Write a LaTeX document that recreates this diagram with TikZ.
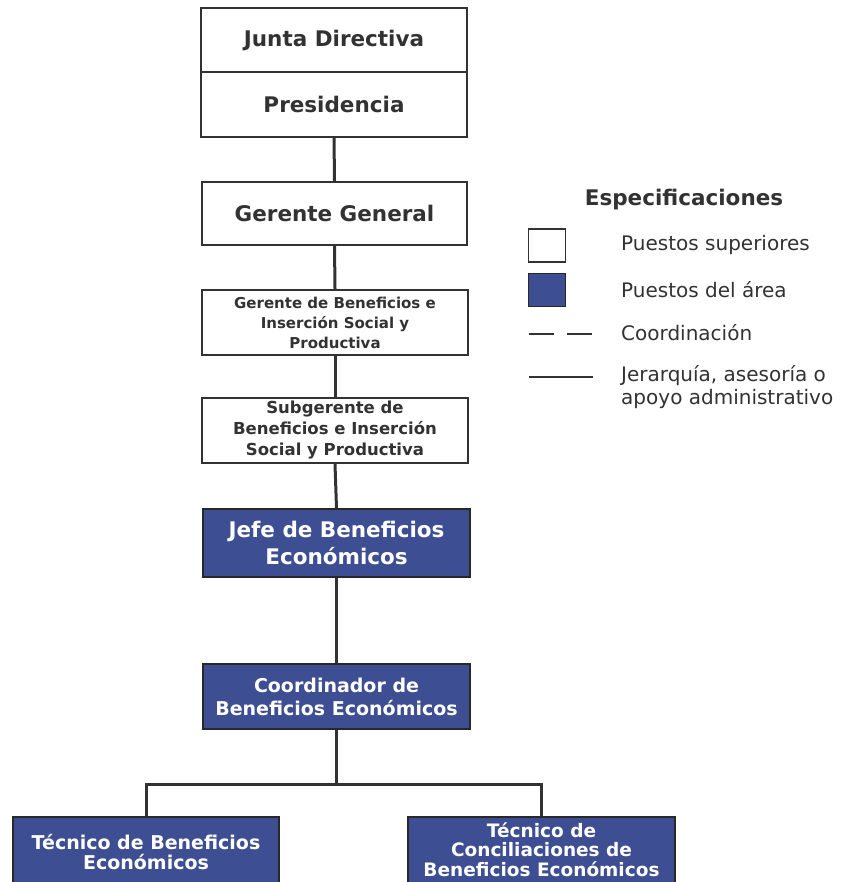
\documentclass[tikz,border=0pt]{standalone}
\usepackage{fontspec}
\setmainfont{DejaVu Sans}
\definecolor{areablue}{RGB}{62,78,146}
\definecolor{ink}{RGB}{50,50,50}
\tikzset{
  sup/.style={draw=ink, line width=2.4pt, fill=white, text=ink, font=\bfseries, align=center, inner sep=0pt},
  area/.style={draw=ink!80!black, line width=1.8pt, fill=areablue, text=white, font=\bfseries, align=center, inner sep=0pt},
  conn/.style={draw=ink, line width=3pt},
  legtxt/.style={anchor=west, text=ink, font=\fontsize{20}{23.5}\selectfont, inner sep=0pt}
}
\begin{document}
\begin{tikzpicture}[x=1pt,y=-1pt]
\useasboundingbox (0,0) rectangle (855,882);
\clip (0,0) rectangle (855,882);
\node[sup, minimum width=266pt, minimum height=64pt, font=\bfseries\fontsize{21.5}{24}\selectfont] (jd) at (334,40) {Junta Directiva};
\node[sup, minimum width=266pt, minimum height=65pt, font=\bfseries\fontsize{21.5}{24}\selectfont] (pres) at (334,104.5) {Presidencia};
\node[sup, minimum width=265pt, minimum height=63pt, font=\bfseries\fontsize{21.5}{24}\selectfont] (gg) at (334.5,213.5) {Gerente General};
\node[sup, minimum width=266pt, minimum height=65pt, font=\bfseries\fontsize{15}{20}\selectfont] (gb) at (335,322.5) {Gerente de Beneficios e\\Inserción Social y\\Productiva};
\node[sup, minimum width=266pt, minimum height=65pt, font=\bfseries\fontsize{16.5}{21}\selectfont] (sg) at (335,430.5) {Subgerente de\\Beneficios e Inserción\\Social y Productiva};
\node[area, minimum width=267pt, minimum height=68pt, font=\bfseries\fontsize{21.5}{27}\selectfont] (jefe) at (336.5,543) {Jefe de Beneficios\\Económicos};
\node[area, minimum width=267pt, minimum height=65pt, font=\bfseries\fontsize{19}{23}\selectfont] (coord) at (336.5,696.5) {Coordinador de\\Beneficios Económicos};
\node[area, minimum width=266pt, minimum height=70pt, font=\bfseries\fontsize{19}{20.5}\selectfont] (t1) at (146,852) {Técnico de Beneficios\\Económicos};
\node[area, minimum width=267pt, minimum height=70pt] (t2) at (541.5,852) {};
\node[text=white, font=\bfseries\fontsize{18.5}{19.5}\selectfont, align=center, inner sep=0pt] (t2txt) at (541.5,849.5) {Técnico de\\Conciliaciones de\\Beneficios Económicos};
\coordinate (junc) at (coord.south |- 0,784);
\draw[conn] (pres.south) -- (gg.north);
\draw[conn] (gg.south) -- (gb.north);
\draw[conn] (gb.south) -- (sg.north);
\draw[conn] (sg.south) -- (jefe.north);
\draw[conn] (jefe.south) -- (coord.north);
\draw[conn] (coord.south) -- (junc);
\draw[conn] (t1.north) |- (junc) -| (t2.north);
% legend
\node[text=ink, font=\bfseries\fontsize{21.5}{24}\selectfont, inner sep=0pt] (spec) at (684,200) {Especificaciones};
\node[draw=ink, line width=1.8pt, fill=white, minimum width=37pt, minimum height=33pt, inner sep=0pt] (lw) at (547,245.5) {};
\node[draw=ink!80!black, line width=1.4pt, fill=areablue, minimum width=37pt, minimum height=33pt, inner sep=0pt] (lb) at (547,290) {};
\coordinate (d1) at (529,334);
\coordinate (d2) at (554,334);
\coordinate (d3) at (567,334);
\coordinate (d4) at (592,334);
\draw[conn, line width=2.4pt] (d1) -- (d2);
\draw[conn, line width=2.4pt] (d3) -- (d4);
\coordinate (s1) at (529,377);
\coordinate (s2) at (593,377);
\draw[conn, line width=2.8pt] (s1) -- (s2);
\node[legtxt] (l1) at (621,245) {Puestos superiores};
\node[legtxt] (l2) at (621,290) {Puestos del área};
\node[legtxt] (l3) at (621,333) {Coordinación};
\node[legtxt, align=left, anchor=north west] (l4) at (621,365) {Jerarquía, asesoría o\\apoyo administrativo};
\end{tikzpicture}
\end{document}
